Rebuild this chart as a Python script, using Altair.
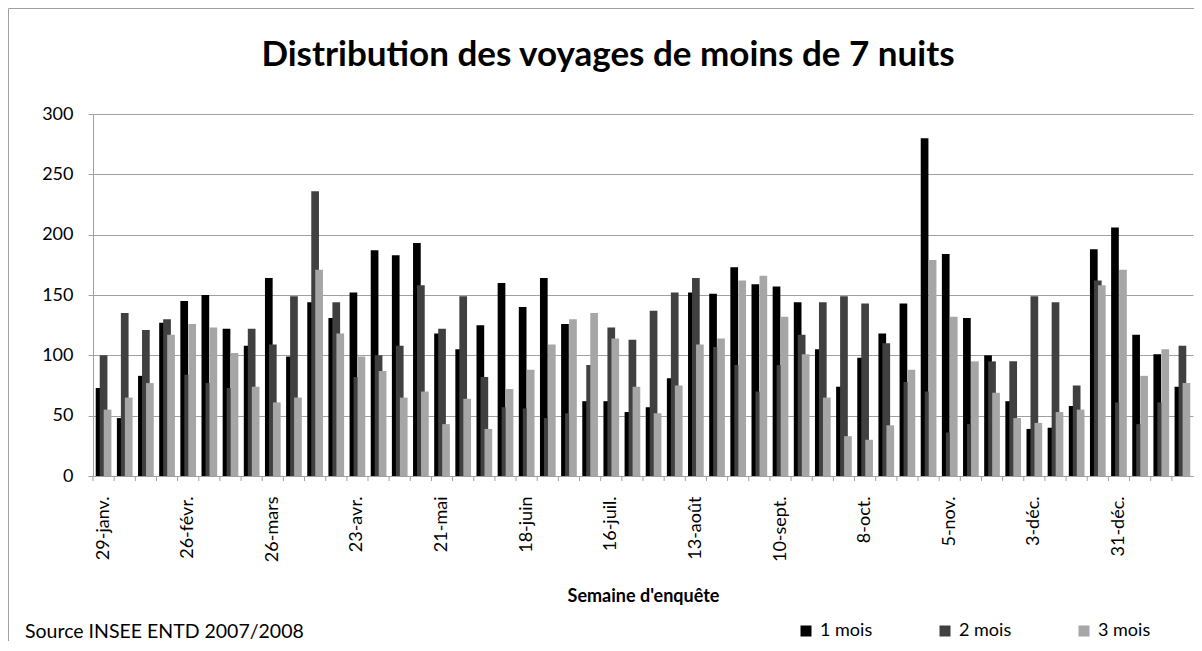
import altair as alt
import pandas as pd

weeks = [
    "29-janv.", "5-févr.", "12-févr.", "19-févr.", "26-févr.", "5-mars", "12-mars",
    "19-mars", "26-mars", "2-avr.", "9-avr.", "16-avr.", "23-avr.", "30-avr.",
    "7-mai", "14-mai", "21-mai", "28-mai", "4-juin", "11-juin", "18-juin",
    "25-juin", "2-juil.", "9-juil.", "16-juil.", "23-juil.", "30-juil.", "6-août",
    "13-août", "20-août", "27-août", "3-sept.", "10-sept.", "17-sept.", "24-sept.",
    "1-oct.", "8-oct.", "15-oct.", "22-oct.", "29-oct.", "5-nov.", "12-nov.",
    "19-nov.", "26-nov.", "3-déc.", "10-déc.", "17-déc.", "24-déc.", "31-déc.",
    "7-janv.", "14-janv.", "21-janv.",
]
series = ["1 mois", "2 mois", "3 mois"]
un_mois = [73, 48, 83, 127, 145, 150, 122, 108, 164, 99, 144, 131, 152, 187, 183,
           193, 118, 105, 125, 160, 140, 164, 126, 62, 62, 53, 57, 81, 152, 151,
           173, 159, 157, 144, 105, 74, 98, 118, 143, 280, 184, 131, 100, 62, 39,
           40, 58, 188, 206, 117, 101, 74]
deux_mois = [100, 135, 121, 130, 84, 77, 73, 122, 109, 149, 236, 144, 82, 100, 108,
             158, 122, 149, 82, 57, 56, 48, 52, 92, 123, 113, 137, 152, 164, 107,
             92, 70, 92, 117, 144, 149, 143, 110, 78, 70, 36, 43, 95, 95, 149,
             144, 75, 162, 61, 43, 61, 108]
trois_mois = [55, 65, 77, 117, 126, 123, 102, 74, 61, 65, 171, 118, 99, 87, 65,
              70, 43, 64, 39, 72, 88, 109, 130, 135, 114, 74, 52, 75, 109, 114,
              162, 166, 132, 101, 65, 33, 30, 42, 88, 179, 132, 95, 69, 48, 44,
              53, 55, 158, 171, 83, 105, 77]
tick_labels = weeks[::4]
y_ticks = [0, 50, 100, 150, 200, 250, 300]
colors = ["#000000", "#404040", "#a6a6a6"]
title_text = "Distribution des voyages de moins de 7 nuits"
x_title = "Semaine d'enquête"
source_text = "Source INSEE ENTD 2007/2008"

rows = []
for i, w in enumerate(weeks):
    for s, vals in zip(series, [un_mois, deux_mois, trois_mois]):
        rows.append({"semaine": w, "serie": s, "voyages": vals[i]})
df = pd.DataFrame(rows)

FONT = "Lato"
GRID = "#a0a0a0"

bars = alt.Chart(df).mark_bar(width=7.7).encode(
    x=alt.X(
        "semaine:N", sort=weeks,
        scale=alt.Scale(paddingInner=0.433, paddingOuter=0.2165),
        axis=alt.Axis(
            values=tick_labels, labelAngle=270, ticks=False, tickSize=0,
            labelPadding=20, labelFontSize=18, labelFont=FONT, labelColor="black",
            title=x_title, titleFont=FONT, titleFontSize=18, titleFontWeight="bold",
            titleColor="black", titleY=120, titleBaseline="middle",
            domainColor=GRID, grid=False,
        ),
    ),
    xOffset=alt.XOffset("serie:N", sort=series,
                        scale=alt.Scale(paddingInner=0, paddingOuter=0)),
    y=alt.Y(
        "voyages:Q", scale=alt.Scale(domain=[0, 300]),
        axis=alt.Axis(
            values=y_ticks, title=None, labelFont=FONT, labelFontSize=18,
            labelColor="black", labelPadding=15, tickSize=5, tickColor=GRID,
            domainColor=GRID, gridColor=GRID, gridWidth=1.2,
        ),
    ),
    color=alt.Color(
        "serie:N", sort=series,
        scale=alt.Scale(domain=series, range=colors),
        legend=alt.Legend(
            title=None, orient="none", legendX=704, legendY=508,
            direction="horizontal", symbolType="square", symbolSize=121,
            symbolStrokeWidth=0, labelFontSize=18, labelFont=FONT,
            labelColor="black", columnPadding=63, labelOffset=5, padding=0,
        ),
    ),
)

ticks = alt.Chart(pd.DataFrame({"semaine": weeks})).mark_rule(color=GRID).encode(
    x=alt.X("semaine:N", sort=weeks, bandPosition=0,
            scale=alt.Scale(paddingInner=0, paddingOuter=0), axis=None),
    y=alt.value(362),
    y2=alt.value(367),
)

note = alt.Chart(pd.DataFrame({"t": [source_text]})).mark_text(
    align="left", baseline="middle", font=FONT, fontSize=19.5, color="black"
).encode(text="t:N", x=alt.value(-68), y=alt.value(518))

frame = alt.Chart(pd.DataFrame({"t": [0]})).mark_rect(
    fill=None, stroke="#a0a0a0", strokeWidth=1
).encode(x=alt.value(-84.5), x2=alt.value(1200), y=alt.value(-105.5), y2=alt.value(700))

chart = alt.layer(frame, bars, ticks, note).resolve_scale(x="independent").properties(
    width=1100,
    height=362,
    title=alt.TitleParams(
        text=title_text, font=FONT, fontSize=35, fontWeight="bold", color="black",
        anchor="middle", frame="group", dx=-35, offset=-93, baseline="alphabetic",
    ),
    padding={"left": 85, "top": 106, "right": 1, "bottom": 165},
    autosize=alt.AutoSizeParams(type="none"),
).configure_view(stroke=None)

chart.save("out.html", embed_options={"renderer": "svg", "actions": False})
